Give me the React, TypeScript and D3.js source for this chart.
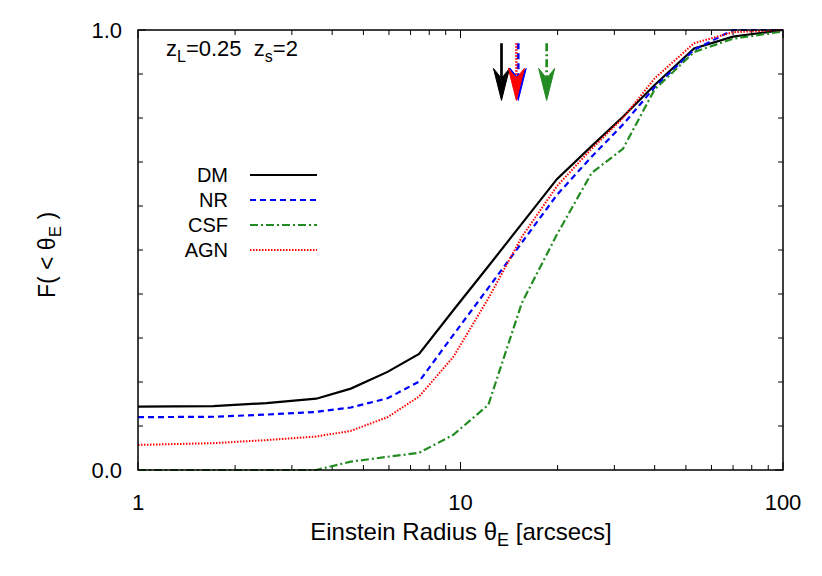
import React from "react";
import * as d3 from "d3";

// Einstein radius bins (arcsec) and cumulative fractions
const thetaE = [1, 1.71, 2.5, 3.57, 4.57, 5.94, 7.44, 9.5, 12.2, 15.5, 19.9, 25.5, 31.9, 40, 53, 70, 100];
const dmF = [0.144, 0.145, 0.152, 0.162, 0.185, 0.223, 0.264, 0.363, 0.463, 0.56, 0.661, 0.736, 0.803, 0.875, 0.958, 0.985, 1.0];
const nrF = [0.12, 0.121, 0.126, 0.132, 0.142, 0.163, 0.201, 0.307, 0.414, 0.517, 0.625, 0.712, 0.785, 0.87, 0.955, 1.0, 1.0];
const csfF = [0, 0, 0, 0, 0.019, 0.03, 0.039, 0.08, 0.148, 0.38, 0.535, 0.675, 0.73, 0.865, 0.95, 0.98, 0.997];
const agnF = [0.057, 0.061, 0.068, 0.076, 0.089, 0.12, 0.167, 0.257, 0.39, 0.53, 0.645, 0.73, 0.8, 0.89, 0.97, 0.995, 1.0];

// median Einstein radius markers
const medians = [
  { name: "DM", theta: 13.4 },
  { name: "NR", theta: 15.1 },
  { name: "AGN", theta: 14.9 },
  { name: "CSF", theta: 18.5 },
];

const styles: Record<string, { color: string; width: number; dash?: string }> = {
  DM: { color: "#000000", width: 2.2 },
  NR: { color: "#0000ff", width: 2.2, dash: "6,4" },
  CSF: { color: "#228b22", width: 2.2, dash: "8,3,2,3" },
  AGN: { color: "#ff0000", width: 2, dash: "1.5,1.5" },
};

const series = [
  { name: "DM", values: dmF },
  { name: "NR", values: nrF },
  { name: "CSF", values: csfF },
  { name: "AGN", values: agnF },
];

const FONT = "'Liberation Sans', Arial, Helvetica, sans-serif";

export default function App() {
  const W = 822;
  const H = 576;
  const left = 138, right = 783, top = 30, bottom = 470;

  const x = d3.scaleLog().domain([1, 100]).range([left, right]);
  const y = d3.scaleLinear().domain([0, 1]).range([bottom, top]);

  const line = d3
    .line<number>()
    .x((_, i) => x(thetaE[i]))
    .y((d) => y(d));

  // minor/major x ticks
  const xTicks: { v: number; major: boolean }[] = [];
  [1, 10].forEach((dec) => {
    for (let k = 1; k <= 9; k++) xTicks.push({ v: dec * k, major: k === 1 });
  });
  xTicks.push({ v: 100, major: true });
  const yTicks = d3.range(0, 11).map((i) => i / 10);

  return (
    <svg
      width={W}
      height={H}
      style={{ position: "absolute", left: 0, top: 0, background: "#fff" }}
      fontFamily={FONT}
    >
      {/* ticks */}
      <g stroke="#000" strokeWidth={1}>
        {xTicks.map((t, i) => {
          const len = t.major ? 8 : 5;
          return (
            <g key={"xt" + i}>
              <line x1={x(t.v)} x2={x(t.v)} y1={bottom} y2={bottom - len} />
              <line x1={x(t.v)} x2={x(t.v)} y1={top} y2={top + len} />
            </g>
          );
        })}
        {yTicks.map((v, i) => {
          const len = v === 0 || v === 1 ? 8 : 5;
          return (
            <g key={"yt" + i}>
              <line x1={left} x2={left + len} y1={y(v)} y2={y(v)} />
              <line x1={right} x2={right - len} y1={y(v)} y2={y(v)} />
            </g>
          );
        })}
      </g>

      {/* curves */}
      {series.map((s) => {
        const st = styles[s.name];
        return (
          <path
            key={s.name}
            d={line(s.values) || ""}
            fill="none"
            stroke={st.color}
            strokeWidth={st.width}
            strokeDasharray={st.dash}
            strokeLinejoin="miter"
          />
        );
      })}

      {/* frame */}
      <rect x={left} y={top} width={right - left} height={bottom - top} fill="none" stroke="#000" strokeWidth={1.5} />

      {/* median arrows */}
      {medians.map((m) => {
        const st = styles[m.name];
        const ax = x(m.theta);
        const y0 = y(0.97);
        const tip = y(0.84);
        return (
          <g key={"arr" + m.name}>
            <line x1={ax} x2={ax} y1={y0} y2={tip - 20} stroke={st.color} strokeWidth={st.width + 0.5} strokeDasharray={st.dash} />
            <path
              d={`M${ax},${tip} L${ax - 8},${tip - 32} L${ax},${tip - 22} L${ax + 8},${tip - 32} Z`}
              fill={st.color}
              stroke={st.color}
              strokeWidth={1}
            />
          </g>
        );
      })}

      {/* tick labels */}
      <g fontSize={22} fill="#000">
        <text x={x(1)} y={bottom + 40} textAnchor="middle">1</text>
        <text x={x(10)} y={bottom + 40} textAnchor="middle">10</text>
        <text x={x(100)} y={bottom + 40} textAnchor="middle">100</text>
        <text x={left - 16} y={y(0) + 8} textAnchor="end">0.0</text>
        <text x={left - 16} y={y(1) + 8} textAnchor="end">1.0</text>
      </g>

      {/* axis labels */}
      <text x={461} y={540} textAnchor="middle" fontSize={24}>
        Einstein Radius θ<tspan fontSize={18} dy={6}>E</tspan>
        <tspan dy={-6}> [arcsecs]</tspan>
      </text>
      <text transform="translate(55,255) rotate(-90)" textAnchor="middle" fontSize={23}>
        F( {"<"} θ<tspan fontSize={17} dy={6}>E</tspan>
        <tspan dy={-6}> )</tspan>
      </text>

      {/* redshift annotation */}
      <text x={166} y={56} fontSize={22} style={{ whiteSpace: "pre" }}>
        z<tspan fontSize={16} dy={6}>L</tspan>
        <tspan dy={-6}>=0.25  z</tspan>
        <tspan fontSize={16} dy={6}>s</tspan>
        <tspan dy={-6}>=2</tspan>
      </text>

      {/* legend */}
      <g fontSize={20}>
        {series.map((s, i) => {
          const st = styles[s.name];
          const ly = 175 + i * 25;
          return (
            <g key={"lg" + s.name}>
              <text x={228} y={ly + 7} textAnchor="end">{s.name}</text>
              <line x1={250} x2={317} y1={ly} y2={ly} stroke={st.color} strokeWidth={st.width} strokeDasharray={st.dash} />
            </g>
          );
        })}
      </g>
    </svg>
  );
}
